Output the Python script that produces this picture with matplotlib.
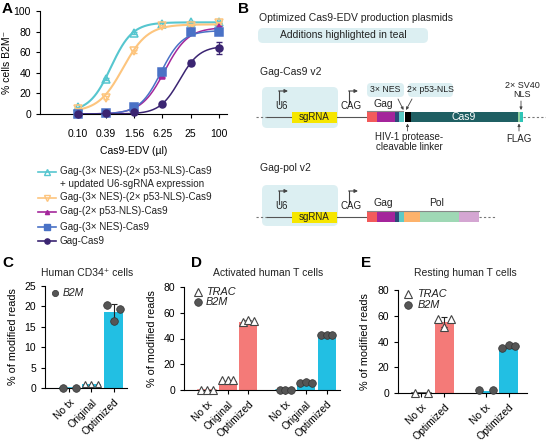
import numpy as np
import matplotlib
matplotlib.use('Agg')
import matplotlib.pyplot as plt
from matplotlib.patches import FancyBboxPatch, Rectangle

plt.rcParams['font.family'] = ['Liberation Sans', 'DejaVu Sans']
plt.rcParams['axes.linewidth'] = 0.8
plt.rcParams['xtick.major.width'] = 0.8
plt.rcParams['ytick.major.width'] = 0.8
plt.rcParams['xtick.major.size'] = 3
plt.rcParams['ytick.major.size'] = 3
plt.rcParams['xtick.labelsize'] = 7.5
plt.rcParams['ytick.labelsize'] = 7.5
plt.rcParams['text.color'] = '#222222'

# ---------------- Panel A data ----------------
doses = [0.10, 0.39, 1.56, 6.25, 25, 100]
dose_labels = ['0.10', '0.39', '1.56', '6.25', '25', '100']
series_names = [
    'Gag-(3× NES)-(2× p53-NLS)-Cas9\n+ updated U6-sgRNA expression',
    'Gag-(3× NES)-(2× p53-NLS)-Cas9',
    'Gag-(2× p53-NLS)-Cas9',
    'Gag-(3× NES)-Cas9',
    'Gag-Cas9',
]
teal_vals = [6.5, 34, 79, 87, 89, 89]
orange_vals = [5, 16, 61, 85, 85, 88]
magenta_vals = [0, 1, 6, 37, 81, 84]
blue_vals = [0, 1, 6.5, 41, 80, 80]
purple_vals = [0, 0.5, 2, 10, 50, 64]
teal_err = [0.5, 1, 1, 1, 1, 1]
orange_err = [0.5, 1, 1.5, 1, 1, 1]
magenta_err = [0, 0.3, 0.5, 1, 1, 1.5]
blue_err = [0, 0.3, 0.5, 1.5, 1, 1.5]
purple_err = [0, 0.2, 0.3, 0.5, 2, 5.5]
# fitted dose-response curve parameters (bottom, top, EC50, hill)
fit_bottom = [2, 2, 0, 0, 0]
fit_top = [89, 87, 84, 81, 66]
fit_ec50 = [0.5, 0.9, 7.0, 5.8, 14.5]
fit_hill = [1.9, 1.65, 1.75, 1.9, 2.05]

series_colors = ['#56c6cf', '#fdc57e', '#a4279b', '#4a72c6', '#3b2572']
series_markers = ['^', 'v', '^', 's', 'o']
series_mfc = ['none', 'none', '#a4279b', '#4a72c6', '#3b2572']
series_ms = [6, 6, 4, 5.5, 5]

# ---------------- Panels C-E data ----------------
c_categories = ['No tx', 'Original', 'Optimized']
c_b2m_mean = [0, 1.0, 18.7]
c_b2m_sd = [0, 0, 1.9]
c_b2m_reps = [[0, 0], [0.9, 1.1, 1.1], [20.3, 16.5, 19.4]]

d_categories = ['No tx', 'Original', 'Optimized', 'No tx', 'Original', 'Optimized']
d_trac_mean = [0, 7, 53]
d_trac_sd = [0, 0.3, 1]
d_trac_reps = [[0, 0, 0], [7.5, 7.5, 7.5], [53, 54.5, 53.5]]
d_b2m_mean = [0, 5, 42]
d_b2m_sd = [0, 0.3, 0.3]
d_b2m_reps = [[0, 0, 0], [5.5, 6, 5.5], [42.5, 42.5, 42.5]]

e_categories = ['No tx', 'Optimized', 'No tx', 'Optimized']
e_trac_mean = [0, 55.3]
e_trac_sd = [0, 3.7]
e_trac_reps = [[0, 0], [57.5, 51, 57.5]]
e_b2m_mean = [1.5, 36]
e_b2m_sd = [0, 1]
e_b2m_reps = [[2, 2], [35, 37, 36.5]]

TRAC_COLOR = '#f47a78'
B2M_COLOR = '#22bfe3'
DOT_COLOR = '#555555'

W, H = 546, 441
fig = plt.figure(figsize=(W / 100, H / 100), dpi=100)


def fa(x0, y0, x1, y1):
    """pixel box -> figure fraction [left, bottom, width, height]"""
    return [x0 / W, 1 - y1 / H, (x1 - x0) / W, (y1 - y0) / H]


# overlay axes in pixel coordinates for diagram and labels
ov = fig.add_axes([0, 0, 1, 1], zorder=0)
ov.set_xlim(0, W)
ov.set_ylim(H, 0)
ov.axis('off')

# ---------------- Panel A ----------------
axA = fig.add_axes(fa(40, 11, 227, 114), zorder=2)
axA.patch.set_alpha(0)
axA.set_xscale('log')
axA.set_xlim(0.0154, 148)
axA.set_ylim(0, 100)
xs = np.logspace(np.log10(doses[0]), np.log10(doses[-1]), 200)
all_vals = [teal_vals, orange_vals, magenta_vals, blue_vals, purple_vals]
all_errs = [teal_err, orange_err, magenta_err, blue_err, purple_err]
for i in range(5):
    curve = fit_bottom[i] + (fit_top[i] - fit_bottom[i]) / (1 + (fit_ec50[i] / xs) ** fit_hill[i])
    axA.plot(xs, curve, color=series_colors[i], lw=1.5 if i < 2 else 1.1, zorder=3 + i)
    axA.errorbar(doses, all_vals[i], yerr=all_errs[i], fmt='none', ecolor=series_colors[i],
                 elinewidth=0.8, capsize=2, clip_on=False, zorder=3 + i)
    axA.plot(doses, all_vals[i], linestyle='none', marker=series_markers[i],
             mfc=series_mfc[i], mec=series_colors[i], mew=1.1, ms=series_ms[i],
             clip_on=False, zorder=4 + i)
axA.set_xticks(doses)
axA.set_xticklabels(dose_labels)
axA.xaxis.set_minor_locator(matplotlib.ticker.NullLocator())
axA.set_yticks([0, 20, 40, 60, 80, 100])
for s in ['top', 'right']:
    axA.spines[s].set_visible(False)
axA.tick_params(axis='x', pad=8)
axA.set_xlabel('Cas9-EDV (µl)', fontsize=7.5, labelpad=5)
axA.set_ylabel('% cells B2M⁻', fontsize=7.5)
axA.yaxis.set_label_coords(-0.15, 0.5)

# legend for A
leg_rows = [172, 198, 212, 227, 241]
for i, yy in enumerate(leg_rows):
    ov.plot([38, 56], [yy, yy], color=series_colors[i], lw=1.2)
    ov.plot([47], [yy], marker=series_markers[i], mfc=series_mfc[i], mec=series_colors[i],
            mew=1.0, ms=series_ms[i] * 0.75)
    ov.text(60, yy - 5.5, series_names[i], fontsize=7.1, va='top', ha='left', linespacing=1.3)

# panel letters
for lbl, (x, y) in zip('ABCDE', [(2, 9), (238, 9), (2, 263), (191, 263), (361, 263)]):
    ov.text(x, y, lbl, fontsize=11, fontweight='bold', ha='left', va='center', color='black')

# ---------------- Panel B diagram ----------------
TEAL_BG = '#dceff2'


def rbox(x0, y0, x1, y1, color, r=4, z=1):
    p = FancyBboxPatch((x0, y0), x1 - x0, y1 - y0,
                       boxstyle='round,pad=0,rounding_size=%g' % r,
                       fc=color, ec='none', zorder=z)
    ov.add_patch(p)


def rect(x0, y0, x1, y1, color, z=3):
    ov.add_patch(Rectangle((x0, y0), x1 - x0, y1 - y0, fc=color, ec='none', zorder=z))


def promoter(x, ybase):
    ov.plot([x, x], [ybase - 13, ybase - 26], color='#444444', lw=0.8, zorder=4)
    ov.annotate('', xy=(x + 9, ybase - 26), xytext=(x - 0.4, ybase - 26),
                arrowprops=dict(arrowstyle='-|>', lw=0.8, color='#444444',
                                mutation_scale=5, shrinkA=0, shrinkB=0), zorder=4)


ov.text(259, 18, 'Optimized Cas9-EDV production plasmids', fontsize=7.5, va='center')
rbox(258, 28, 428, 43, TEAL_BG, r=5)
ov.text(343, 35.5, 'Additions highlighted in teal', fontsize=7.5, va='center', ha='center')

# Gag-Cas9 v2
ov.text(260, 72, 'Gag-Cas9 v2', fontsize=7.5, va='center')
rbox(262, 87, 338, 128, TEAL_BG, r=5)
yb = 117
ov.plot([256, 267], [yb, yb], color='#777777', lw=0.8, ls=(0, (2, 2)), zorder=2)
ov.plot([267, 367], [yb, yb], color='#555555', lw=0.8, zorder=2)
ov.plot([523, 546], [yb, yb], color='#777777', lw=0.8, ls=(0, (2, 2)), zorder=2)
rect(292, 111.5, 337, 122.5, '#f6e600')
ov.text(314.5, 117.5, 'sgRNA', fontsize=7, ha='center', va='center', zorder=5)
ov.text(281, 111, 'U6', fontsize=7, ha='center', va='bottom', zorder=5)
promoter(279, yb)
ov.text(351, 111, 'CAG', fontsize=7, ha='center', va='bottom', zorder=5)
promoter(349, yb)
segs1 = [(367, 377, '#f25a5a'), (377, 395, '#a4249b'), (395, 399, '#2d4a78'),
         (399, 403.5, '#5ccac6'), (403.5, 405, '#ffffff'), (405, 411, '#000000'),
         (411, 518, '#1f5f63'), (518, 520, '#8fd19e'), (520, 523, '#2ec4b6')]
for x0, x1, c in segs1:
    rect(x0, 112, x1, 122, c)
ov.text(464, 117.5, 'Cas9', fontsize=7.5, ha='center', va='center', color='white', zorder=5)
ov.plot([367, 403], [111, 111], color='#888888', lw=0.8, zorder=3)
ov.text(383, 109, 'Gag', fontsize=7.5, ha='center', va='bottom')
rbox(367, 83, 404, 97, TEAL_BG, r=4)
ov.text(385.5, 90, '3× NES', fontsize=6.3, ha='center', va='center')
rbox(408, 83, 453, 97, TEAL_BG, r=4)
ov.text(430.5, 90, '2× p53-NLS', fontsize=6.3, ha='center', va='center')
arrow_kw = dict(arrowstyle='-|>', lw=0.6, color='#444444', mutation_scale=4, shrinkA=0, shrinkB=0)
ov.annotate('', xy=(403.5, 110), xytext=(398, 99), arrowprops=arrow_kw)
ov.annotate('', xy=(406, 110), xytext=(412, 99), arrowprops=arrow_kw)
ov.text(522, 90, '2× SV40\nNLS', fontsize=6.5, ha='center', va='center', linespacing=1.0)
ov.annotate('', xy=(521, 110), xytext=(521, 101), arrowprops=arrow_kw)
ov.annotate('', xy=(407.5, 123.5), xytext=(407.5, 131), arrowprops=arrow_kw)
ov.text(409, 142, 'HIV-1 protease-\ncleavable linker', fontsize=7, ha='center', va='center',
        linespacing=1.0)
ov.annotate('', xy=(519, 123.5), xytext=(519, 131), arrowprops=arrow_kw)
ov.text(519, 139, 'FLAG', fontsize=7, ha='center', va='center')

# Gag-pol v2
ov.text(260, 168, 'Gag-pol v2', fontsize=7.5, va='center')
rbox(262, 185, 338, 226, TEAL_BG, r=5)
yb2 = 217
ov.plot([256, 267], [yb2, yb2], color='#777777', lw=0.8, ls=(0, (2, 2)), zorder=2)
ov.plot([267, 367], [yb2, yb2], color='#555555', lw=0.8, zorder=2)
ov.plot([479, 496], [yb2, yb2], color='#777777', lw=0.8, ls=(0, (2, 2)), zorder=2)
rect(292, 211.5, 337, 222.5, '#f6e600')
ov.text(314.5, 217.5, 'sgRNA', fontsize=7, ha='center', va='center', zorder=5)
ov.text(281, 211, 'U6', fontsize=7, ha='center', va='bottom', zorder=5)
promoter(279, yb2)
ov.text(351, 211, 'CAG', fontsize=7, ha='center', va='bottom', zorder=5)
promoter(349, yb2)
segs2 = [(367, 377, '#f25a5a'), (377, 395, '#a4249b'), (395, 399, '#2d4a78'),
         (399, 404, '#5ccac6'), (404, 420, '#fdb26b'), (420, 459, '#9fd8b5'),
         (459, 479, '#d4a6d2')]
for x0, x1, c in segs2:
    rect(x0, 212, x1, 222, c)
ov.plot([367, 403.5], [210.5, 210.5], color='#888888', lw=0.8, zorder=3)
ov.plot([405, 479], [210.5, 210.5], color='#888888', lw=0.8, zorder=3)
ov.text(383, 208, 'Gag', fontsize=7.5, ha='center', va='bottom')
ov.text(437, 208, 'Pol', fontsize=7.5, ha='center', va='bottom')


# ---------------- Bar panels ----------------
MS = 5.5


def style_bar_ax(ax):
    for s in ['top', 'right']:
        ax.spines[s].set_visible(False)
    ax.patch.set_alpha(0)


def draw_group(ax, positions, means, sds, reps, color, marker, offsets_map, width):
    ax.bar(positions, means, width=width, color=color, zorder=2)
    for p, m, sd in zip(positions, means, sds):
        if sd > 0:
            ax.errorbar([p], [m], yerr=[sd], fmt='none', ecolor='#222222', elinewidth=0.8,
                        capsize=2.5, capthick=0.8, zorder=3)
    for p, r in zip(positions, reps):
        offs = offsets_map[len(r)]
        if marker == '^':
            ax.plot([p + o for o in offs], r, ls='none', marker='^', mfc='white', mec='#444444',
                    mew=0.8, ms=MS, clip_on=False, zorder=4)
        else:
            ax.plot([p + o for o in offs], r, ls='none', marker='o', mfc=DOT_COLOR, mec='#333333',
                    mew=0.5, ms=MS, clip_on=False, zorder=4)


def draw_flat(ax, p, width, color):
    ax.plot([p - width / 2, p + width / 2], [0, 0], color=color, lw=1.2, zorder=2, clip_on=False)


offs3 = {2: [-0.3, 0.3], 3: [-0.28, 0, 0.28]}

# Panel C
axC = fig.add_axes(fa(45, 286, 127, 388), zorder=2)
style_bar_ax(axC)
posC = [0, 1, 2]
axC.bar(posC, c_b2m_mean, width=0.86, color=B2M_COLOR, zorder=2)
draw_flat(axC, 0, 0.86, B2M_COLOR)
axC.errorbar([2], [c_b2m_mean[2]], yerr=[c_b2m_sd[2]], fmt='none', ecolor='#222222',
             elinewidth=0.8, capsize=2.5, capthick=0.8, zorder=3)
axC.plot([0 + o for o in offs3[2]], c_b2m_reps[0], ls='none', marker='o', mfc=DOT_COLOR,
         mec='#333333', mew=0.5, ms=MS, clip_on=False, zorder=4)
axC.plot([1 + o for o in offs3[3]], c_b2m_reps[1], ls='none', marker='^', mfc='white',
         mec='#444444', mew=0.8, ms=4.5, clip_on=False, zorder=4)
axC.plot([2 - 0.28, 2, 2 + 0.28], c_b2m_reps[2], ls='none', marker='o', mfc=DOT_COLOR,
         mec='#333333', mew=0.5, ms=MS, clip_on=False, zorder=4)
axC.set_xlim(-1.09, 2.6)
axC.set_ylim(0, 25)
axC.set_yticks([0, 5, 10, 15, 20, 25])
axC.set_xticks(posC)
axC.set_xticklabels(c_categories, rotation=45, ha='right', va='top', rotation_mode='anchor')
axC.set_ylabel('% of modified reads', fontsize=7.8)
axC.yaxis.set_label_coords(-0.33, 0.5)
axC.plot([0.12], [0.93], transform=axC.transAxes, marker='o', mfc=DOT_COLOR, mec='#333333',
         mew=0.5, ms=4.5, clip_on=False)
axC.text(0.22, 0.93, 'B2M', transform=axC.transAxes, fontsize=7.5, style='italic',
         ha='left', va='center')
ov.text(87, 273, 'Human CD34⁺ cells', fontsize=7.5, ha='center', va='center')

# Panel D
axD = fig.add_axes(fa(184, 287, 340, 390), zorder=2)
style_bar_ax(axD)
posD_trac = [0, 1, 2]
posD_b2m = [3.8, 4.8, 5.8]
wD = 0.88
draw_group(axD, posD_trac, d_trac_mean, d_trac_sd, d_trac_reps, TRAC_COLOR, '^', offs3, wD)
draw_flat(axD, 0, wD, TRAC_COLOR)
draw_group(axD, posD_b2m, d_b2m_mean, d_b2m_sd, d_b2m_reps, B2M_COLOR, 'o', offs3, wD)
draw_flat(axD, 3.8, wD, B2M_COLOR)
axD.set_xlim(-1.12, 6.45)
axD.set_ylim(0, 80)
axD.set_yticks([0, 20, 40, 60, 80])
axD.set_xticks(posD_trac + posD_b2m)
axD.set_xticklabels(d_categories, rotation=45, ha='right', va='top', rotation_mode='anchor')
axD.set_ylabel('% of modified reads', fontsize=7.8)
axD.yaxis.set_label_coords(-0.175, 0.5)
axD.plot([0.09], [0.955], transform=axD.transAxes, marker='^', mfc='white', mec='#444444',
         mew=0.8, ms=MS, clip_on=False)
axD.plot([0.09], [0.85], transform=axD.transAxes, marker='o', mfc=DOT_COLOR, mec='#333333',
         mew=0.5, ms=MS, clip_on=False)
axD.text(0.14, 0.955, 'TRAC', transform=axD.transAxes, fontsize=7.8, style='italic',
         ha='left', va='center')
axD.text(0.14, 0.85, 'B2M', transform=axD.transAxes, fontsize=7.8, style='italic',
         ha='left', va='center')
ov.text(268, 273, 'Activated human T cells', fontsize=7.5, ha='center', va='center')

# Panel E
axE = fig.add_axes(fa(398, 290, 527, 393), zorder=2)
style_bar_ax(axE)
posE_trac = [0, 1]
posE_b2m = [2.8, 3.8]
wE = 0.82
draw_group(axE, posE_trac, e_trac_mean, e_trac_sd, e_trac_reps, TRAC_COLOR, '^', offs3, wE)
draw_flat(axE, 0, wE, '#444444')
draw_group(axE, posE_b2m, e_b2m_mean, e_b2m_sd, e_b2m_reps, B2M_COLOR, 'o', offs3, wE)
axE.set_xlim(-1.02, 4.6)
axE.set_ylim(0, 80)
axE.set_yticks([0, 20, 40, 60, 80])
axE.set_xticks(posE_trac + posE_b2m)
axE.set_xticklabels(e_categories, rotation=45, ha='right', va='top', rotation_mode='anchor')
axE.set_ylabel('% of modified reads', fontsize=7.8)
axE.yaxis.set_label_coords(-0.22, 0.5)
axE.plot([0.08], [0.96], transform=axE.transAxes, marker='^', mfc='white', mec='#444444',
         mew=0.8, ms=MS, clip_on=False)
axE.plot([0.08], [0.855], transform=axE.transAxes, marker='o', mfc=DOT_COLOR, mec='#333333',
         mew=0.5, ms=MS, clip_on=False)
axE.text(0.15, 0.96, 'TRAC', transform=axE.transAxes, fontsize=7.8, style='italic',
         ha='left', va='center')
axE.text(0.15, 0.855, 'B2M', transform=axE.transAxes, fontsize=7.8, style='italic',
         ha='left', va='center')
ov.text(465, 273, 'Resting human T cells', fontsize=7.5, ha='center', va='center')

fig.savefig('out.png', dpi=100)
